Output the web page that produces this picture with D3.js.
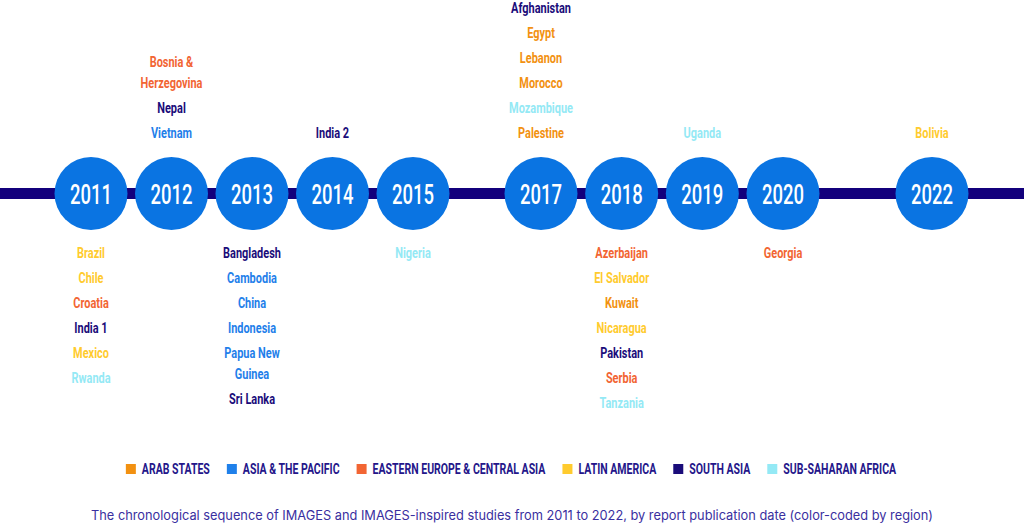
<!DOCTYPE html>
<head>
<meta charset="utf-8">
<title>IMAGES timeline</title>
<style>
    body { margin:0; background:#fff; }
    svg { display:block; }
</style>
</head>
<body>
<svg width="1024" height="526"></svg>

<script src="https://cdnjs.cloudflare.com/ajax/libs/d3/7.8.5/d3.min.js"></script>
<script>
// regions and colours
var regions = ["ARAB STATES", "ASIA & THE PACIFIC", "EASTERN EUROPE & CENTRAL ASIA",
               "LATIN AMERICA", "SOUTH ASIA", "SUB-SAHARAN AFRICA"];
var regionColors = ["#f29111", "#1f80ea", "#f26533", "#ffcb2e", "#1a0c7a", "#94e9f5"];

// report years on the timeline
var years = [2011, 2012, 2013, 2014, 2015, 2017, 2018, 2019, 2020, 2022];

// studies above the line, top to bottom: [name lines, year, region index]
var aboveStudies = [
  [["Bosnia &", "Herzegovina"], 2012, 2],
  [["Nepal"], 2012, 4],
  [["Vietnam"], 2012, 1],
  [["India 2"], 2014, 4],
  [["Afghanistan"], 2017, 4],
  [["Egypt"], 2017, 0],
  [["Lebanon"], 2017, 0],
  [["Morocco"], 2017, 0],
  [["Mozambique"], 2017, 5],
  [["Palestine"], 2017, 0],
  [["Uganda"], 2019, 5],
  [["Bolivia"], 2022, 3]
];

// studies below the line, top to bottom
var belowStudies = [
  [["Brazil"], 2011, 3],
  [["Chile"], 2011, 3],
  [["Croatia"], 2011, 2],
  [["India 1"], 2011, 4],
  [["Mexico"], 2011, 3],
  [["Rwanda"], 2011, 5],
  [["Bangladesh"], 2013, 4],
  [["Cambodia"], 2013, 1],
  [["China"], 2013, 1],
  [["Indonesia"], 2013, 1],
  [["Papua New", "Guinea"], 2013, 1],
  [["Sri Lanka"], 2013, 4],
  [["Nigeria"], 2015, 5],
  [["Azerbaijan"], 2018, 2],
  [["El Salvador"], 2018, 3],
  [["Kuwait"], 2018, 0],
  [["Nicaragua"], 2018, 3],
  [["Pakistan"], 2018, 4],
  [["Serbia"], 2018, 2],
  [["Tanzania"], 2018, 5],
  [["Georgia"], 2020, 2]
];

var caption = "The chronological sequence of IMAGES and IMAGES-inspired studies from 2011 to 2022, by report publication date (color-coded by region)";

var svg = d3.select("svg");
var fontCond = "'Liberation Sans Narrow', Roboto, 'Noto Sans', sans-serif";

// the timeline is not evenly spaced, so a piecewise scale
var x = d3.scaleLinear()
    .domain([2011, 2015, 2017, 2020, 2022])
    .range([91, 413, 541, 783, 932]);
var lineY = 193.5;
var color = d3.scaleOrdinal().domain(d3.range(regions.length)).range(regionColors);

// width of a string in a given font, to squeeze text into a condensed look
function measure(str, size, weight, family) {
  var t = svg.append("text").attr("font-size", size).attr("font-weight", weight)
      .attr("font-family", family).text(str);
  var w = t.node().getComputedTextLength();
  t.remove();
  return w;
}
var kLabel = 46 / measure("Palestine", 15, 700, fontCond);
var kYear = 42 / measure("2017", 28.5, 500, fontCond);
var kLegend = 68 / measure("ARAB STATES", 14, 700, fontCond);

svg.append("line")
    .attr("x1", 0).attr("x2", 1024)
    .attr("y1", lineY).attr("y2", lineY)
    .attr("stroke", "#13007c").attr("stroke-width", 11);

var node = svg.selectAll("g.year").data(years).join("g")
    .attr("class", "year")
    .attr("transform", function(d){ return "translate(" + x(d) + "," + lineY + ")"; });

node.append("circle").attr("r", 36.5).attr("fill", "#0a74e2");

node.append("text")
    .attr("transform", "translate(0,10) scale(" + kYear + ",1)")
    .attr("text-anchor", "middle")
    .attr("font-family", fontCond).attr("font-size", 28.5).attr("font-weight", 500)
    .attr("fill", "#fff")
    .text(function(d){ return d; });

// stack names into text lines: 25px between studies, 21px inside a wrapped name
function layout(studies, startY, dir) {
  var out = [];
  d3.groups(studies, function(s){ return s[1]; }).forEach(function(g) {
    var list = g[1].slice();
    if (dir < 0) list.reverse();
    var yPos = startY, first = true;
    list.forEach(function(s) {
      var lines = dir < 0 ? s[0].slice().reverse() : s[0];
      lines.forEach(function(l, i) {
        if (!first) yPos += dir * (i == 0 ? 25 : 21);
        first = false;
        out.push({ text: l, year: s[1], region: s[2], y: yPos });
      });
    });
  });
  return out;
}

var labels = layout(aboveStudies, 133, -1).concat(layout(belowStudies, 253, 1));

svg.selectAll("text.study").data(labels).join("text")
    .attr("class", "study")
    .attr("transform", function(d){
      return "translate(" + x(d.year) + "," + (d.y + 5.4) + ") scale(" + kLabel + ",1)";
    })
    .attr("text-anchor", "middle")
    .attr("font-family", fontCond).attr("font-size", 15).attr("font-weight", 700)
    .attr("fill", function(d){ return color(d.region); })
    .text(function(d){ return d.text; });

// legend, laid out in a row and centred
var legY = 469;
var items = regions.map(function(r, i) {
  return { name: r, i: i, w: measure(r, 14, 700, fontCond) * kLegend };
});
var xPos = 0;
items.forEach(function(d){ d.x = xPos; xPos += 10 + 6 + d.w + 17; });
var legW = xPos - 17;
var leg = svg.append("g").attr("transform", "translate(" + (511 - legW / 2) + "," + legY + ")");
var li = leg.selectAll("g").data(items).join("g")
    .attr("transform", function(d){ return "translate(" + d.x + ",0)"; });
li.append("rect").attr("x", 0).attr("y", -5).attr("width", 10).attr("height", 10)
    .attr("fill", function(d){ return color(d.i); });
li.append("text")
    .attr("transform", "translate(16,5) scale(" + kLegend + ",1)")
    .attr("font-family", fontCond).attr("font-size", 14).attr("font-weight", 700)
    .attr("fill", "#24168a")
    .text(function(d){ return d.name; });

svg.append("text")
    .attr("x", 512).attr("y", 520)
    .attr("text-anchor", "middle")
    .attr("font-family", "Inter, 'Noto Sans', sans-serif").attr("font-size", 13)
    .attr("textLength", 842).attr("lengthAdjust", "spacingAndGlyphs")
    .attr("fill", "#3a2fa0")
    .text(caption);
</script>
</body>
